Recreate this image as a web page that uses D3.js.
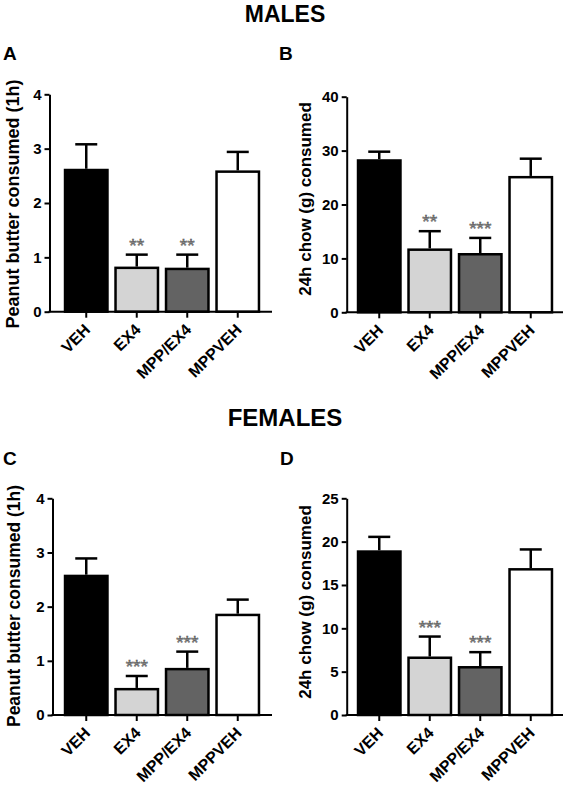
<!DOCTYPE html>
<html><head><meta charset="utf-8">
<script src="https://cdn.jsdelivr.net/npm/d3@7"></script>
<style>
html,body{margin:0;padding:0;background:#fff;}
svg{display:block;font-family:"Liberation Sans",Arial,sans-serif;}
</style></head>
<body>
<svg id="chart" width="567" height="787"></svg>
<script>
// ---- data ----
const categories = ["VEH", "EX4", "MPP/EX4", "MPPVEH"];
const barColors = ["#000000", "#d4d4d4", "#636363", "#ffffff"];

const malesPeanut = [2.63, 0.83, 0.81, 2.60];
const malesPeanutSem = [0.45, 0.22, 0.24, 0.34];
const malesPeanutSig = ["", "**", "**", ""];

const malesChow = [28.4, 11.85, 11.0, 25.3];
const malesChowSem = [1.4, 3.2, 2.8, 3.2];
const malesChowSig = ["", "**", "***", ""];

const femalesPeanut = [2.59, 0.50, 0.87, 1.87];
const femalesPeanutSem = [0.30, 0.22, 0.30, 0.26];
const femalesPeanutSig = ["", "***", "***", ""];

const femalesChow = [19.0, 6.75, 5.65, 16.95];
const femalesChowSem = [1.55, 2.3, 1.6, 2.15];
const femalesChowSig = ["", "***", "***", ""];

const peanutTicks = [0, 1, 2, 3, 4];
const maleChowTicks = [0, 10, 20, 30, 40];
const femaleChowTicks = [0, 5, 10, 15, 20, 25];

const sectionTitles = ["MALES", "FEMALES"];
const panelLetters = ["A", "B", "C", "D"];
const peanutLabel = "Peanut butter consumed (1h)";
const chowLabel = "24h chow (g) consumed";

// ---- layout ----
const svg = d3.select("#chart");
const panels = [
  {letter: panelLetters[0], vals: malesPeanut, sem: malesPeanutSem, sig: malesPeanutSig, ticks: peanutTicks,
   label: peanutLabel, axisX: 49.5, xEnd: 272, bandR: [61, 263], y0: 311.7, yTop: 94.3,
   labX: 19, labY: 204, labSize: 18, letX: 3, letY: 60},
  {letter: panelLetters[1], vals: malesChow, sem: malesChowSem, sig: malesChowSig, ticks: maleChowTicks,
   label: chowLabel, axisX: 346.7, xEnd: 563, bandR: [354, 556], y0: 312.3, yTop: 96.7,
   labX: 311, labY: 199, labSize: 17, letX: 279, letY: 60},
  {letter: panelLetters[2], vals: femalesPeanut, sem: femalesPeanutSem, sig: femalesPeanutSig, ticks: peanutTicks,
   label: peanutLabel, axisX: 52.5, xEnd: 272, bandR: [61, 263], y0: 715, yTop: 498.3,
   labX: 20, labY: 606, labSize: 17.5, letX: 3, letY: 465},
  {letter: panelLetters[3], vals: femalesChow, sem: femalesChowSem, sig: femalesChowSig, ticks: femaleChowTicks,
   label: chowLabel, axisX: 346.7, xEnd: 563, bandR: [354, 556], y0: 715, yTop: 498.3,
   labX: 311, labY: 602, labSize: 17, letX: 280, letY: 465}
];

// section titles
svg.append("text").attr("x", 285).attr("y", 22).attr("text-anchor", "middle")
  .attr("font-size", 23).attr("font-weight", "bold").text(sectionTitles[0]);
svg.append("text").attr("x", 285).attr("y", 426).attr("text-anchor", "middle")
  .attr("font-size", 24).attr("font-weight", "bold").text(sectionTitles[1]);

panels.forEach(p => {
  const g = svg.append("g");
  const yMax = p.ticks[p.ticks.length - 1];
  const y = d3.scaleLinear().domain([0, yMax]).range([p.y0, p.yTop]);
  const x = d3.scaleBand().domain(categories).range(p.bandR).paddingInner(0.11).paddingOuter(0.055);

  // panel letter
  g.append("text").attr("x", p.letX).attr("y", p.letY).attr("font-size", 19).attr("font-weight", "bold").text(p.letter);

  // y label
  g.append("text").attr("transform", `translate(${p.labX},${p.labY}) rotate(-90)`)
    .attr("text-anchor", "middle").attr("font-size", p.labSize).attr("font-weight", "bold").text(p.label);

  const rows = categories.map((c, i) => ({c, v: p.vals[i], e: p.sem[i], s: p.sig[i], col: barColors[i]}));

  // error bars (drawn before bars so stem hidden inside)
  const eb = g.append("g").attr("stroke", "#000").attr("stroke-width", 2.5).attr("fill", "none");
  rows.forEach(r => {
    const cx = x(r.c) + x.bandwidth() / 2;
    eb.append("line").attr("x1", cx).attr("x2", cx).attr("y1", y(r.v)).attr("y2", y(r.v + r.e));
    eb.append("line").attr("x1", cx - 11).attr("x2", cx + 11).attr("y1", y(r.v + r.e)).attr("y2", y(r.v + r.e));
  });

  // bars
  g.append("g").selectAll("rect").data(rows).join("rect")
    .attr("x", d => x(d.c) + 1.25).attr("width", x.bandwidth() - 2.5)
    .attr("y", d => y(d.v) + 1.25).attr("height", d => y(0) - y(d.v) - 1.25)
    .attr("fill", d => d.col).attr("stroke", "#000").attr("stroke-width", 2.5);

  // significance asterisks
  g.append("g").selectAll("text").data(rows.filter(r => r.s)).join("text")
    .attr("x", d => x(d.c) + x.bandwidth() / 2).attr("y", d => y(d.v + d.e) - 3)
    .attr("text-anchor", "middle").attr("font-size", 19).attr("fill", "#999")
    .attr("stroke", "#444").attr("stroke-width", 0.5).text(d => d.s);

  // y axis
  const ya = g.append("g").attr("transform", `translate(${p.axisX},0)`)
    .call(d3.axisLeft(y).tickValues(p.ticks).tickSize(5).tickPadding(3).tickSizeOuter(0).tickFormat(d3.format("d")));
  ya.select(".domain").attr("stroke-width", 2);
  ya.selectAll(".tick line").attr("stroke-width", 2);
  ya.selectAll("text").attr("font-size", 15).attr("font-weight", "bold").attr("font-family", "Liberation Sans, Arial, sans-serif").attr("fill", "#000");

  // x axis
  const xa = g.append("g").attr("transform", `translate(0,${p.y0})`)
    .call(d3.axisBottom(x).tickSize(6).tickSizeOuter(0));
  xa.select(".domain").remove();
  xa.append("line").attr("x1", p.axisX - 1).attr("x2", p.xEnd).attr("y1", 0).attr("y2", 0)
    .attr("stroke", "#000").attr("stroke-width", 2);
  xa.selectAll(".tick line").attr("stroke-width", 2);
  xa.selectAll(".tick text")
    .attr("font-size", 16).attr("font-weight", "bold").attr("font-family", "Liberation Sans, Arial, sans-serif").attr("fill", "#000")
    .attr("text-anchor", "end").attr("dy", null).attr("y", 0)
    .attr("transform", "translate(5,19) rotate(-45)");
});
</script>
</body></html>
